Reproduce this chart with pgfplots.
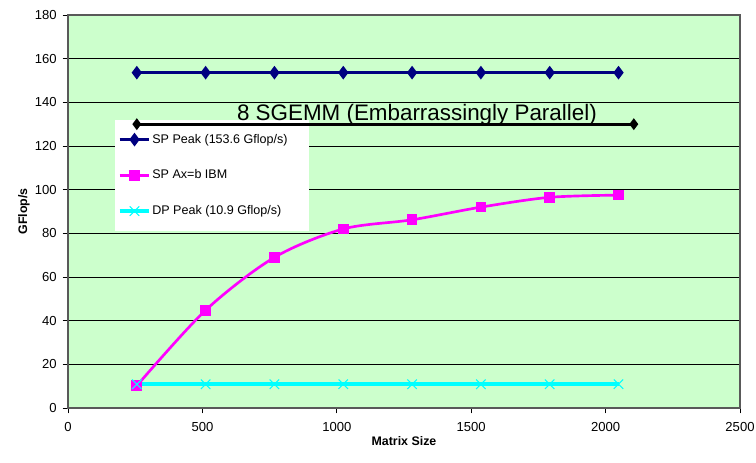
\documentclass[border=0pt]{standalone}
\usepackage{pgfplots}
\pgfplotsset{compat=1.18}
\usepackage{fontspec}
\setmainfont{Liberation Sans}
\definecolor{bggreen}{HTML}{CCFFCC}
\definecolor{spnavy}{HTML}{000080}
\definecolor{spmag}{HTML}{FF00FF}
\definecolor{dpcyan}{HTML}{00FFFF}
\begin{document}
\begin{tikzpicture}
\useasboundingbox (-51pt,-40.5pt) rectangle (516pt,306pt);
\begin{axis}[
  at={(0,0)}, anchor=south west,
  scale only axis,
  width=504pt, height=294.75pt,
  xmin=0, xmax=2500, ymin=0, ymax=180,
  xtick={0,500,...,2500}, ytick={0,20,...,180},
  axis background/.style={fill=bggreen},
  ymajorgrids, grid style={black, line width=0.5pt},
  axis line style={gray!70!black, line width=0.8pt},
  tick style={black, line width=0.6pt},
  tick align=outside, major tick length=4pt,
  xtick pos=bottom, ytick pos=left,
  /pgf/number format/assume math mode=true,
  /pgf/number format/1000 sep={},
  scaled ticks=false,
  xticklabel style={font=\fontsize{9.8}{11}\selectfont, yshift=-3pt},
  yticklabel style={font=\fontsize{9.8}{11}\selectfont, xshift=-1pt},
  xlabel={\textbf{Matrix Size}}, ylabel={\textbf{GFlop/s}},
  label style={font=\fontsize{9.3}{11}\selectfont},
  xlabel style={yshift=3pt},
  ylabel style={yshift=-3pt},
  legend cell align=left,
  legend style={at={(axis cs:175,132)}, anchor=north west, draw=none, fill=white,
    font=\fontsize{9.4}{11}\selectfont, row sep=14.5pt, inner xsep=2pt, inner ysep=8.5pt,
    nodes={inner xsep=1pt}},
  legend image code/.code={\draw[mark repeat=2,mark phase=2,#1] plot coordinates {(0cm,0cm)(0.39cm,0cm)(0.78cm,0cm)};},
]
\addplot[spnavy, line width=2pt, mark=diamond*, mark size=3.5pt, mark options={solid}]
  coordinates {(256,153.6)(512,153.6)(768,153.6)(1024,153.6)(1280,153.6)(1536,153.6)(1792,153.6)(2048,153.6)};
\addlegendentry{SP Peak (153.6 Gflop/s)\kern13pt}
\addplot[spmag, line width=2pt, smooth, tension=0.5, mark=square*, mark size=3pt]
  coordinates {(256,10.2)(512,44.8)(768,69)(1024,82)(1280,86.2)(1536,92)(1792,96.5)(2048,97.5)};
\addlegendentry{SP Ax=b IBM}
\addplot[dpcyan, line width=2.6pt, mark=x, mark size=5pt, mark options={line width=0.8pt}]
  coordinates {(256,10.9)(512,10.9)(768,10.9)(1024,10.9)(1280,10.9)(1536,10.9)(1792,10.9)(2048,10.9)};
\addlegendentry{DP Peak (10.9 Gflop/s)}
\end{axis}
\begin{axis}[
  at={(0,0)}, anchor=south west,
  scale only axis,
  width=504pt, height=294.75pt,
  xmin=0, xmax=2500, ymin=0, ymax=180,
  axis lines=none, clip=false,
]
\addplot[black, line width=2pt, mark=diamond*, mark size=2.8pt]
  coordinates {(256,130)(2105,130)};
\node[anchor=base, font=\fontsize{16.8}{18}\selectfont, inner sep=0pt] at (axis cs:1298,131.8) {8 SGEMM (Embarrassingly Parallel)};
\end{axis}
\end{tikzpicture}
\end{document}
